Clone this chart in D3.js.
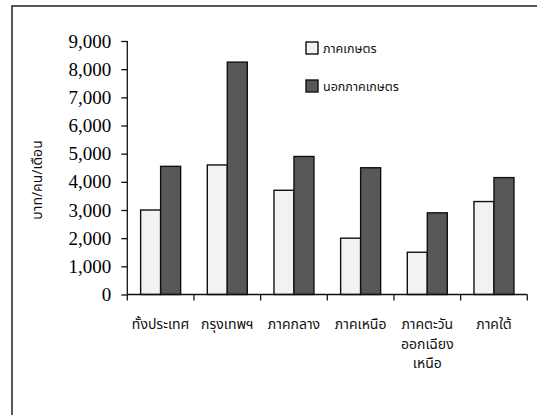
<!DOCTYPE html>
<html><head><meta charset="utf-8">
<script src="https://cdn.jsdelivr.net/npm/d3@7"></script>
<style>body{margin:0;background:#fff}svg{display:block}</style>
</head><body>
<svg id="c" width="537" height="415"></svg>
<script>
const categories = [["ทั้งประเทศ"],["กรุงเทพฯ"],["ภาคกลาง"],["ภาคเหนือ"],["ภาคตะวัน","ออกเฉียง","เหนือ"],["ภาคใต้"]];
const seriesNames = ["ภาคเกษตร","นอกภาคเกษตร"];
const agri = [3000, 4600, 3700, 2000, 1500, 3300];
const nonAgri = [4550, 8250, 4900, 4500, 2900, 4150];
const yTicks = [0,1000,2000,3000,4000,5000,6000,7000,8000,9000];
const yLabel = "บาท/คน/เดือน";
const colors = ["#f2f2f2","#585858"];

const svg = d3.select("#c");
const thai = "'Noto Sans Thai','Tahoma','Loma','Garuda',sans-serif";
const serif = "'Liberation Serif','Times New Roman',serif";

svg.append("rect").attr("x",12).attr("y",6).attr("width",600).attr("height",500)
  .attr("fill","none").attr("stroke","#222").attr("stroke-width",1.5);

const pL=127.3, pR=527.3, pT=41, pB=294.5;
const keys = categories.map(c=>c.join(""));
const x0 = d3.scaleBand().domain(keys).range([pL,pR]).paddingInner(0.4).paddingOuter(0.2);
const x1 = d3.scaleBand().domain(seriesNames).range([0,x0.bandwidth()]);
const y = d3.scaleLinear().domain([0,9000]).range([pB,pT]);

const data = keys.map((k,i)=>({k, vals:[agri[i], nonAgri[i]]}));
const g = svg.append("g");
g.selectAll("g.grp").data(data).join("g").attr("class","grp")
  .attr("transform",d=>`translate(${x0(d.k)},0)`)
  .selectAll("rect").data(d=>d.vals.map((v,j)=>({v,j}))).join("rect")
  .attr("x",d=>x1(seriesNames[d.j])).attr("width",x1.bandwidth())
  .attr("y",d=>y(d.v)).attr("height",d=>y(0)-y(d.v))
  .attr("fill",d=>colors[d.j]).attr("stroke","#111").attr("stroke-width",1.4);

// y axis
const ya = svg.append("g").attr("transform",`translate(${pL},0)`)
  .call(d3.axisLeft(y).tickValues(yTicks).tickFormat(d3.format(",")).tickSize(6).tickPadding(10));
ya.selectAll("text").style("font-family",serif).style("font-size","19px").attr("fill","#000");
ya.selectAll("line,path").attr("stroke","#111").attr("stroke-width",1.3);
ya.select("path").attr("d",`M0,${y(9000)}V${y(0)}`);

// x axis
const step = x0.step();
const bounds = keys.map(k=>x0(k)-step*x0.paddingOuter()).concat([pR]);
const xa = svg.append("g");
xa.append("line").attr("x1",pL).attr("x2",pR).attr("y1",pB).attr("y2",pB)
  .attr("stroke","#111").attr("stroke-width",1.3);
xa.selectAll("line.t").data(bounds).join("line").attr("class","t")
  .attr("x1",d=>d).attr("x2",d=>d).attr("y1",pB).attr("y2",pB+6)
  .attr("stroke","#111").attr("stroke-width",1.3);
xa.selectAll("text").data(categories).join("text")
  .attr("x",(d,i)=>x0(keys[i])+x0.bandwidth()/2).attr("y",329)
  .attr("text-anchor","middle").style("font-family",thai).style("font-size","14px").attr("fill","#111")
  .selectAll("tspan").data(d=>d).join("tspan")
  .attr("x",function(){return this.parentNode.getAttribute("x");})
  .attr("dy",(d,i)=>i?19.5:0).text(d=>d);

// y label
svg.append("text").attr("transform","translate(42,180) rotate(-90)")
  .attr("text-anchor","middle").style("font-family",thai).style("font-size","14px").attr("fill","#111")
  .text(yLabel);

// legend
const leg = svg.append("g");
seriesNames.forEach((s,i)=>{
  const yy = 42 + i*38;
  leg.append("rect").attr("x",306).attr("y",yy).attr("width",12).attr("height",12)
    .attr("fill",colors[i]).attr("stroke","#111").attr("stroke-width",1.4);
  leg.append("text").attr("x",323).attr("y",yy+10.5).style("font-family",thai).style("font-size","12.5px")
    .attr("fill","#111").text(s);
});
</script>
</body></html>
